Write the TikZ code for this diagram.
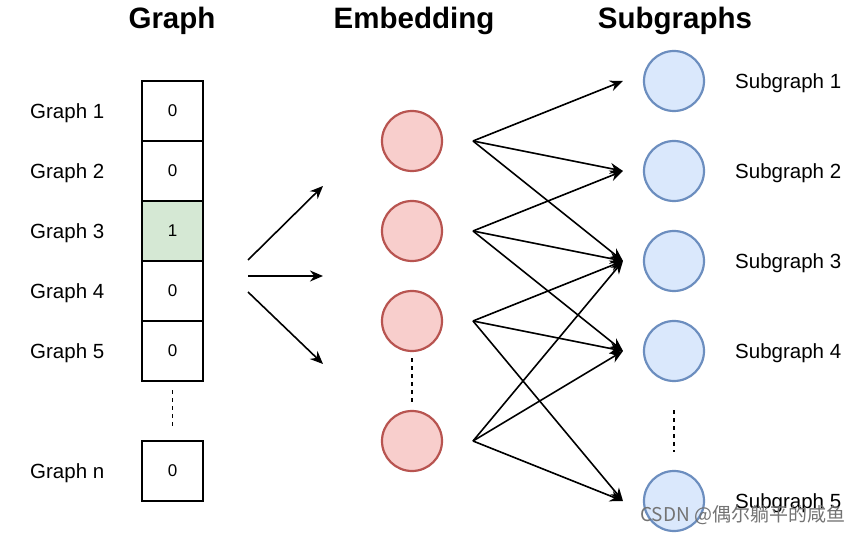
\documentclass[tikz,border=0pt]{standalone}
\usepackage{fontspec}
\setmainfont{Liberation Sans}
\newfontfamily\cjk{Noto Sans CJK SC}
\usetikzlibrary{arrows.meta}
\begin{document}
\begin{tikzpicture}[x=1pt,y=-1pt,
  title/.style={font=\fontsize{29.5}{32}\selectfont\bfseries},
  lbl/.style={font=\fontsize{20.5}{23}\selectfont, anchor=west, inner sep=0},
  cell/.style={draw=black, line width=2.2pt, minimum width=61pt, minimum height=60pt, inner sep=0, font=\fontsize{17}{19}\selectfont},
  emb/.style={circle, draw=embdraw, line width=2.2pt, fill=embfill, minimum size=60pt, inner sep=0},
  sub/.style={circle, draw=subdraw, line width=2.2pt, fill=subfill, minimum size=60pt, inner sep=0},
  arr/.style={line width=1.6pt, -{Stealth[length=13pt,width=11pt]}},
  dots/.style={line width=1.4pt, dash pattern=on 4pt off 4pt}
]
\definecolor{embfill}{HTML}{F8CECC}
\definecolor{embdraw}{HTML}{B85450}
\definecolor{subfill}{HTML}{DAE8FC}
\definecolor{subdraw}{HTML}{6C8EBF}
\definecolor{greenfill}{HTML}{D5E8D4}
\useasboundingbox (0,0) rectangle (865,534);
\fill[white] (0,0) rectangle (865,534);

% titles
\node[title] (tg) at (172,21) {Graph};
\node[title] (te) at (414,21) {Embedding};
\node[title] (ts) at (675,21) {Subgraphs};

% graph column
\node[cell] (c1) at (172.5,111) {0};
\node[cell] (c2) at (172.5,171) {0};
\node[cell, fill=greenfill] (c3) at (172.5,231) {1};
\node[cell] (c4) at (172.5,291) {0};
\node[cell] (c5) at (172.5,351) {0};
\node[cell] (cn) at (172.5,471) {0};
\draw[dots] ([yshift=-8pt]c5.south) -- ([yshift=11pt]cn.north);

\node[lbl] (g1) at (30,113) {Graph 1};
\node[lbl] (g2) at (30,173) {Graph 2};
\node[lbl] (g3) at (30,233) {Graph 3};
\node[lbl] (g4) at (30,293) {Graph 4};
\node[lbl] (g5) at (30,353) {Graph 5};
\node[lbl] (gn) at (30,473) {Graph n};

% left arrows
\coordinate (a1s) at (248,260); \coordinate (a1e) at (323,186);
\coordinate (a2s) at (248,276); \coordinate (a2e) at (323,276);
\coordinate (a3s) at (248,292); \coordinate (a3e) at (323,364);
\draw[arr] (a1s) -- (a1e);
\draw[arr] (a2s) -- (a2e);
\draw[arr] (a3s) -- (a3e);

% embedding circles
\node[emb] (e1) at (412,141) {};
\node[emb] (e2) at (412,231) {};
\node[emb] (e3) at (412,321) {};
\node[emb] (e4) at (412,441) {};
\draw[dots] ([yshift=-6pt]e3.south) -- ([yshift=8pt]e4.north);

% subgraph circles
\node[sub] (s1) at (674,81) {};
\node[sub] (s2) at (674,171) {};
\node[sub] (s3) at (674,261) {};
\node[sub] (s4) at (674,351) {};
\node[sub] (s5) at (674,501) {};
\draw[dots] ([yshift=-28pt]s4.south) -- ([yshift=18pt]s5.north);

\node[lbl] (l1) at (735,83) {Subgraph 1};
\node[lbl] (l2) at (735,173) {Subgraph 2};
\node[lbl] (l3) at (735,263) {Subgraph 3};
\node[lbl] (l4) at (735,353) {Subgraph 4};
\node[lbl] (l5) at (735,503) {Subgraph 5};

% connection points
\coordinate (o1) at (473,141);
\coordinate (o2) at (473,231);
\coordinate (o3) at (473,321);
\coordinate (o4) at (473,441);
\coordinate (i1) at (623,81);
\coordinate (i2) at (623,171);
\coordinate (i3) at (623,261);
\coordinate (i4) at (623,351);
\coordinate (i5) at (623,501);

\foreach \a/\b in {o1/i1,o1/i2,o1/i3,o2/i2,o2/i3,o2/i4,o3/i3,o3/i4,o3/i5,o4/i3,o4/i4,o4/i5}
  \draw[arr] (\a) -- (\b);

% watermark
\node[font=\cjk\fontsize{19}{21}\selectfont, text=black!55, anchor=west, inner sep=0] (wm) at (640,515) {CSDN @偶尔躺平的咸鱼};
\end{tikzpicture}
\end{document}
